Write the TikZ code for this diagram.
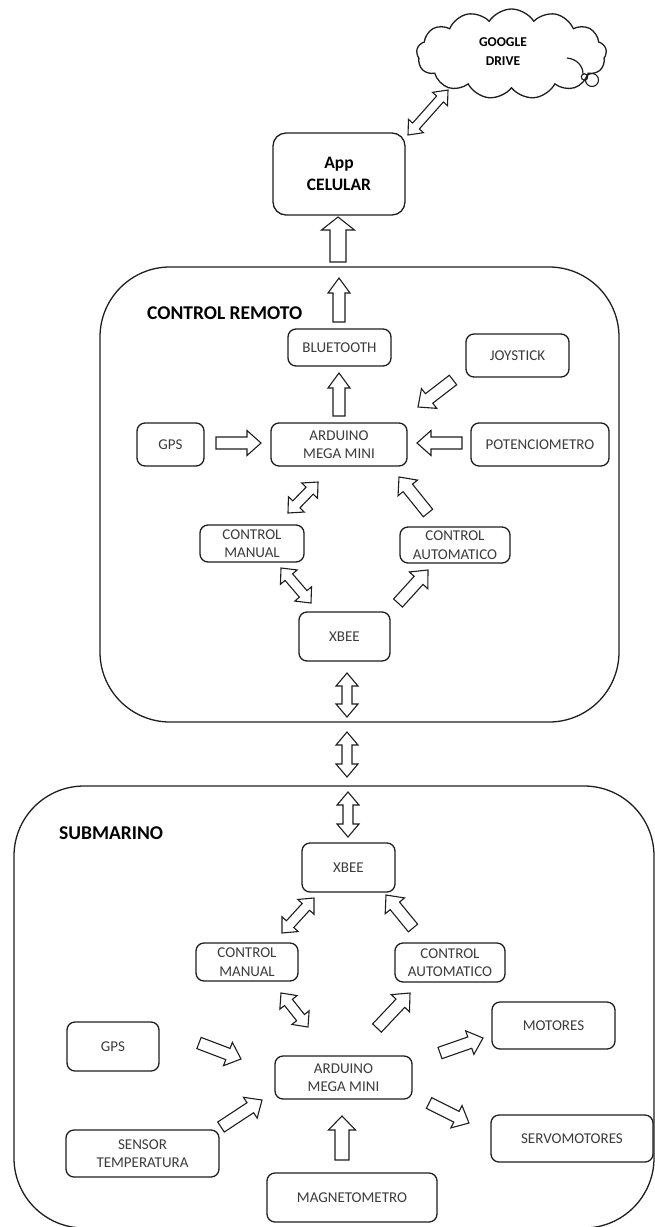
\documentclass[tikz,border=0pt]{standalone}
\usepackage{fontspec}
\setmainfont{Carlito}
\usetikzlibrary{calc,shapes.symbols}

\definecolor{ink}{HTML}{1E1E1E}
\definecolor{lbl}{HTML}{3C3C3C}

\tikzset{
  box/.style={draw=ink, line width=1.3pt, rounded corners=8pt, fill=white,
    inner sep=0pt, text=lbl, align=center, font=\fontsize{15}{18.5}\selectfont},
  title/.style={inner sep=0pt, text=black, font=\bfseries\fontsize{19.5}{22}\selectfont},
  group/.style={draw=ink, line width=1.3pt, rounded corners=70pt, inner sep=0pt},
  blk/.style={draw=ink, line width=1.1pt, fill=white, line join=miter},
}

% hollow block arrow dimensions: half shaft width, half head width, head length
\def\arrS{6}
\def\arrH{12.5}
\def\arrL{14}

% single-headed hollow block arrow from #1 to #2
\newcommand\onearrow[2]{%
  \draw[blk] let \p1=(#1), \p2=(#2),
      \n1={atan2(\y2-\y1,\x2-\x1)},
      \n2={veclen(\x2-\x1,\y2-\y1)-\arrL} in
    ($(\p1)+(\n1+90:\arrS)$) -- ($(\p1)+(\n1:\n2)+(\n1+90:\arrS)$)
    -- ($(\p1)+(\n1:\n2)+(\n1+90:\arrH)$) -- (\p2)
    -- ($(\p1)+(\n1:\n2)+(\n1-90:\arrH)$) -- ($(\p1)+(\n1:\n2)+(\n1-90:\arrS)$)
    -- ($(\p1)+(\n1-90:\arrS)$) -- cycle;}

% double-headed hollow block arrow between #1 and #2
\newcommand\twoarrow[2]{%
  \draw[blk] let \p1=(#1), \p2=(#2),
      \n1={atan2(\y2-\y1,\x2-\x1)},
      \n2={veclen(\x2-\x1,\y2-\y1)-\arrL} in
    (\p1) -- ($(\p1)+(\n1:\arrL)+(\n1+90:\arrH)$) -- ($(\p1)+(\n1:\arrL)+(\n1+90:\arrS)$)
    -- ($(\p1)+(\n1:\n2)+(\n1+90:\arrS)$) -- ($(\p1)+(\n1:\n2)+(\n1+90:\arrH)$) -- (\p2)
    -- ($(\p1)+(\n1:\n2)+(\n1-90:\arrH)$) -- ($(\p1)+(\n1:\n2)+(\n1-90:\arrS)$)
    -- ($(\p1)+(\n1:\arrL)+(\n1-90:\arrS)$) -- ($(\p1)+(\n1:\arrL)+(\n1-90:\arrH)$) -- cycle;}

\begin{document}
\begin{tikzpicture}[x=1pt,y=1pt]
\useasboundingbox (0,0) rectangle (654,-1227);

% ---------- cloud storage ----------
\node[cloud, draw=ink, line width=1.3pt, cloud puffs=13, cloud puff arc=115,
      aspect=2.1, minimum width=190pt, minimum height=90pt, inner sep=0pt]
      (drive) at (511.5,-54) {};
\node[title, align=center, font=\bfseries\fontsize{13.5}{19}\selectfont] (drivetxt) at (503,-52) {GOOGLE\\DRIVE};
\draw[ink, line width=1.2pt] (567,-58) .. controls (577,-59) and (583,-66) .. (583,-74);
\draw[ink, line width=1.1pt] (584.5,-77) circle (3.2);
\draw[ink, line width=1.1pt] (592,-80) circle (6.5);

% ---------- phone app ----------
\node[box, rounded corners=13pt, text=black, minimum width=132pt, minimum height=82pt,
      font=\bfseries\fontsize{17.5}{22}\selectfont] (app) at (339,-174) {App\\CELULAR};

% ---------- group frames ----------
\node[group, minimum width=519pt, minimum height=455pt] (remote) at (359.5,-494.5) {};
\node[title, anchor=west] (remotetitle) at (147,-313) {CONTROL REMOTO};
\node[group, minimum width=640pt, minimum height=442pt] (sub) at (334,-1007) {};
\node[title, anchor=west] (subtitle) at (59,-833) {SUBMARINO};

% ---------- remote control blocks ----------
\node[box, minimum width=103pt, minimum height=37pt] (bt) at (339.5,-347.5) {BLUETOOTH};
\node[box, minimum width=103pt, minimum height=43pt] (joy) at (517.5,-355.5) {JOYSTICK};
\node[box, minimum width=67pt, minimum height=43pt] (gpsA) at (170.5,-444.5) {GPS};
\node[box, minimum width=136pt, minimum height=43pt] (ardA) at (339,-444.5) {ARDUINO\\MEGA MINI};
\node[box, minimum width=138pt, minimum height=43pt] (pot) at (540,-444.5) {POTENCIOMETRO};
\node[box, minimum width=104pt, minimum height=37pt] (manA) at (252,-543.5) {CONTROL\\MANUAL};
\node[box, minimum width=110pt, minimum height=36pt] (autA) at (455,-545) {CONTROL\\AUTOMATICO};
\node[box, minimum width=91pt, minimum height=49pt] (xbA) at (344.5,-636.5) {XBEE};

% ---------- submarine blocks ----------
\node[box, minimum width=93pt, minimum height=49pt] (xbB) at (348.5,-867.5) {XBEE};
\node[box, minimum width=102pt, minimum height=38pt] (manB) at (247,-962) {CONTROL\\MANUAL};
\node[box, minimum width=110pt, minimum height=39pt] (autB) at (450,-962.5) {CONTROL\\AUTOMATICO};
\node[box, minimum width=92pt, minimum height=49pt] (gpsB) at (113,-1046.5) {GPS};
\node[box, minimum width=137pt, minimum height=43pt] (ardB) at (343.5,-1077.5) {ARDUINO\\MEGA MINI};
\node[box, minimum width=123pt, minimum height=47pt] (mot) at (553.5,-1025.5) {MOTORES};
\node[box, minimum width=162pt, minimum height=47pt] (servo) at (572,-1138.5) {SERVOMOTORES};
\node[box, minimum width=153pt, minimum height=47pt] (temp) at (142.5,-1153.5) {SENSOR\\TEMPERATURA};
\node[box, minimum width=170pt, minimum height=49pt] (mag) at (352,-1197.5) {MAGNETOMETRO};

% ---------- arrow end points ----------
\coordinate (appCloud) at (408,-135);   \coordinate (cloudApp) at (448,-90);
\coordinate (remOut) at (338,-262);     \coordinate (appIn) at (338,-217);
\coordinate (btOut) at (339,-322);      \coordinate (remTop) at (339,-278);
\coordinate (ardAup) at (339,-416);     \coordinate (btIn) at (339,-373);
\coordinate (joyOut) at (453,-380);     \coordinate (ardAjoy) at (418,-407);
\coordinate (gpsAout) at (216,-443);    \coordinate (ardAgps) at (261,-443);
\coordinate (potOut) at (462,-443);     \coordinate (ardApot) at (417,-443);
\coordinate (manAtop) at (288,-513);    \coordinate (ardAman) at (318,-482);
\coordinate (autAtop) at (428,-513);    \coordinate (ardAaut) at (399,-477);
\coordinate (manAbot) at (281,-568);    \coordinate (xbAman) at (311,-603);
\coordinate (xbAaut) at (398,-603);     \coordinate (autAbot) at (428,-570);
\coordinate (xbAlow) at (347,-673);     \coordinate (remLow) at (347,-717);
\coordinate (linkTop) at (347,-732);    \coordinate (linkBot) at (347,-777);
\coordinate (subTop) at (348,-792);     \coordinate (xbBtop) at (348,-837);
\coordinate (manBtop) at (282,-933);    \coordinate (xbBman) at (314,-898);
\coordinate (autBtop) at (413,-928);    \coordinate (xbBaut) at (386,-895);
\coordinate (manBbot) at (281,-993);    \coordinate (ardBman) at (308,-1027);
\coordinate (ardBaut) at (377,-1028);   \coordinate (autBbot) at (410,-993);
\coordinate (gpsBout) at (199,-1043);   \coordinate (ardBgps) at (241,-1059);
\coordinate (tempOut) at (221,-1127);   \coordinate (ardBtemp) at (262,-1100);
\coordinate (magOut) at (342,-1160);    \coordinate (ardBmag) at (342,-1116);
\coordinate (ardBmot) at (440,-1053);   \coordinate (motIn) at (483,-1038);
\coordinate (ardBsrv) at (429,-1103);   \coordinate (srvIn) at (469,-1123);

% ---------- connectors ----------
{\def\arrS{4.5}\def\arrH{10}\def\arrL{12}\twoarrow{appCloud}{cloudApp}}
{\def\arrS{8}\def\arrH{16.5}\def\arrL{13}\onearrow{remOut}{appIn}}
{\def\arrH{11}\def\arrL{15}\onearrow{btOut}{remTop}}
{\def\arrH{11}\def\arrL{15}\onearrow{ardAup}{btIn}}
\onearrow{joyOut}{ardAjoy}
\onearrow{gpsAout}{ardAgps}
\onearrow{potOut}{ardApot}
{\def\arrS{5}\def\arrH{11}\def\arrL{12}\twoarrow{manAtop}{ardAman}}
\onearrow{autAtop}{ardAaut}
{\def\arrS{5}\def\arrH{11}\def\arrL{12}\twoarrow{manAbot}{xbAman}}
\onearrow{xbAaut}{autAbot}
{\def\arrS{5}\def\arrH{11}\def\arrL{13}\twoarrow{xbAlow}{remLow}}
{\def\arrS{5}\def\arrH{11}\def\arrL{13}\twoarrow{linkTop}{linkBot}}
{\def\arrS{5}\def\arrH{11}\def\arrL{13}\twoarrow{subTop}{xbBtop}}
{\def\arrS{5}\def\arrH{11}\def\arrL{12}\twoarrow{manBtop}{xbBman}}
\onearrow{autBtop}{xbBaut}
{\def\arrS{5}\def\arrH{11}\def\arrL{12}\twoarrow{manBbot}{ardBman}}
\onearrow{ardBaut}{autBbot}
\onearrow{gpsBout}{ardBgps}
\onearrow{tempOut}{ardBtemp}
{\def\arrS{7}\def\arrH{13.5}\onearrow{magOut}{ardBmag}}
\onearrow{ardBmot}{motIn}
\onearrow{ardBsrv}{srvIn}
\end{tikzpicture}
\end{document}
